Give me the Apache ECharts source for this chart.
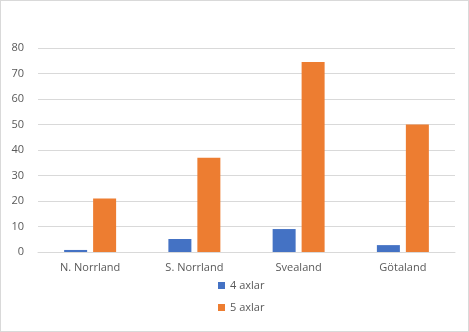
<!DOCTYPE html>
<html><head><meta charset="utf-8">
<script src="https://cdn.jsdelivr.net/npm/echarts@6/dist/echarts.min.js"></script>
<style>html,body{margin:0;padding:0;background:#fff}#c{width:469px;height:332px;box-sizing:border-box;border:1px solid #d9d9d9}</style>
</head><body><div id="c"></div>
<script>
const categories = ['N. Norrland', 'S. Norrland', 'Svealand', 'Götaland'];
const axlar4 = [0.8, 5.1, 9.0, 2.7];
const axlar5 = [21, 37, 74.5, 50];
const yTicks = {min: 0, max: 80, interval: 10};
const chart = echarts.init(document.getElementById('c'), null, {renderer: 'canvas'});
const font = 'Open Sans';
chart.setOption({
  animation: false,
  grid: {left: 37, right: 13, top: 47, bottom: 79, containLabel: false},
  legend: {
    orient: 'vertical', left: 212, top: 274, itemWidth: 7, itemHeight: 7, itemGap: 11,
    icon: 'rect',
    textStyle: {color: '#595959', fontSize: 11, fontFamily: font},
    data: ['4 axlar', '5 axlar']
  },
  xAxis: {
    type: 'category', data: categories,
    axisLine: {lineStyle: {color: '#d9d9d9'}}, axisTick: {show: false},
    axisLabel: {color: '#595959', fontSize: 11, fontFamily: font, margin: 10}
  },
  yAxis: {
    type: 'value', min: yTicks.min, max: yTicks.max, interval: yTicks.interval,
    axisLine: {show: false}, axisTick: {show: false},
    splitLine: {lineStyle: {color: '#d9d9d9'}},
    axisLabel: {color: '#595959', fontSize: 11, fontFamily: font, margin: 14}
  },
  series: [
    {name: '4 axlar', type: 'bar', data: axlar4, barWidth: 23, barGap: '26%', itemStyle: {color: '#4472C4'}},
    {name: '5 axlar', type: 'bar', data: axlar5, barWidth: 23, itemStyle: {color: '#ED7D31'}}
  ]
});
</script></body></html>
